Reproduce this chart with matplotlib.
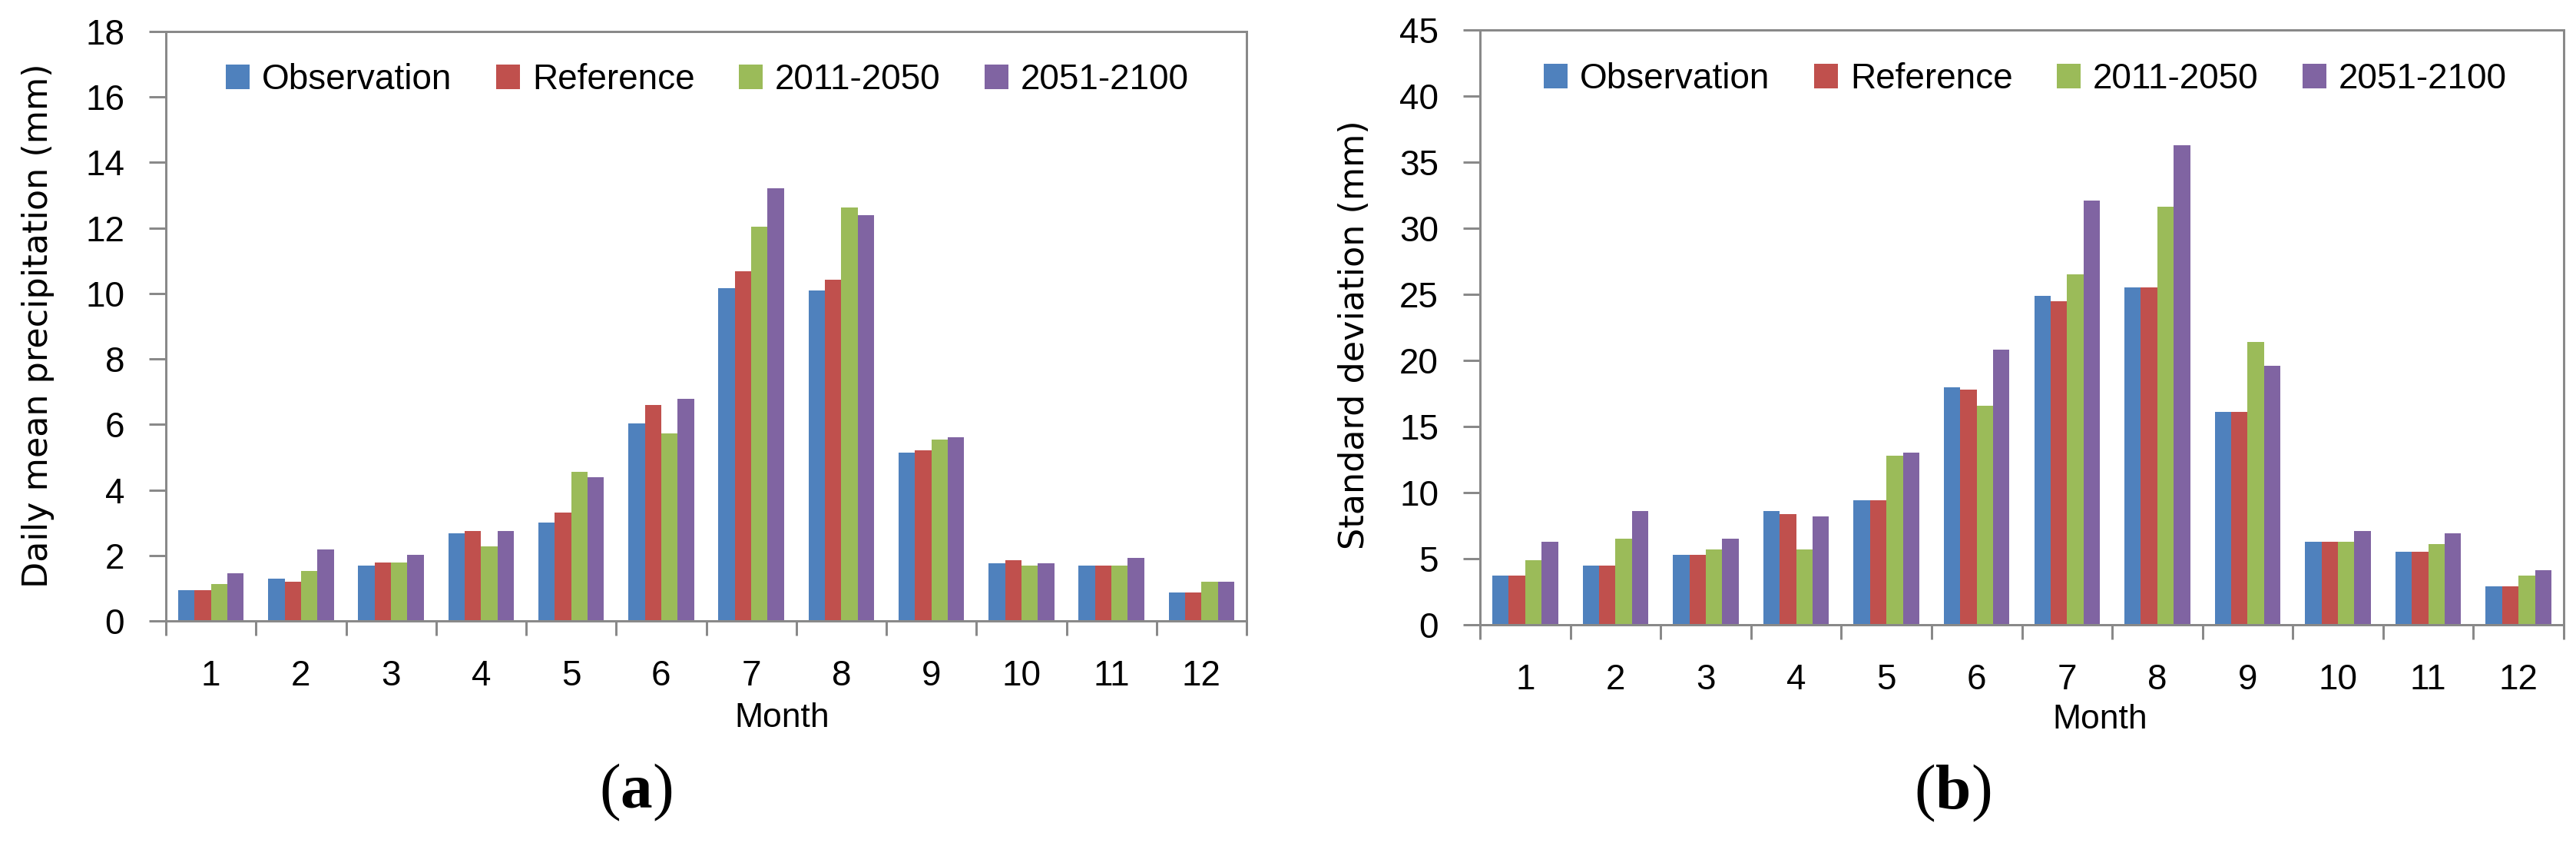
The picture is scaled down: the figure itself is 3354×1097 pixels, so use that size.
import matplotlib
matplotlib.use("Agg")
import matplotlib.pyplot as plt
import numpy as np
from matplotlib.patches import Patch
from matplotlib.ticker import FixedLocator, NullFormatter

# ---------------- data ----------------
months = [1, 2, 3, 4, 5, 6, 7, 8, 9, 10, 11, 12]
series_names = ["Observation", "Reference", "2011-2050", "2051-2100"]
colors = ["#4F81BD", "#C0504D", "#9BBB59", "#8064A2"]

# (a) daily mean precipitation (mm)
mean_obs = [0.95, 1.28, 1.70, 2.67, 3.00, 6.03, 10.17, 10.08, 5.13, 1.77, 1.70, 0.87]
mean_ref = [0.95, 1.20, 1.78, 2.75, 3.32, 6.60, 10.67, 10.41, 5.21, 1.85, 1.70, 0.87]
mean_f1 = [1.12, 1.53, 1.78, 2.27, 4.55, 5.72, 12.05, 12.63, 5.53, 1.70, 1.70, 1.20]
mean_f2 = [1.45, 2.18, 2.02, 2.75, 4.38, 6.78, 13.21, 12.38, 5.62, 1.77, 1.93, 1.20]

# (b) standard deviation (mm)
std_obs = [3.7, 4.5, 5.3, 8.6, 9.4, 17.98, 24.9, 25.5, 16.1, 6.3, 5.5, 2.9]
std_ref = [3.7, 4.5, 5.3, 8.4, 9.4, 17.77, 24.5, 25.5, 16.1, 6.3, 5.5, 2.9]
std_f1 = [4.9, 6.5, 5.7, 5.7, 12.8, 16.55, 26.5, 31.6, 21.4, 6.3, 6.1, 3.7]
std_f2 = [6.3, 8.6, 6.5, 8.2, 13.0, 20.84, 32.1, 36.3, 19.6, 7.1, 6.9, 4.1]

W, H = 3354, 1097
DPI = 100
fig = plt.figure(figsize=(W / DPI, H / DPI), dpi=DPI)

GRAY = "#898989"
TICKFONT = "Liberation Sans"
PX = 72.0 / DPI  # points per pixel


def fx(px):
    return px / W


def fy(py):
    return 1 - py / H


def make_panel(rect_px, data, ymax, ystep, ylabel, ylabel_pos, legend_pos,
               month_pos, tag, tag_pos):
    l, t, r, b = rect_px
    ax = fig.add_axes([fx(l), fy(b), (r - l) / W, (b - t) / H])
    n = len(data)
    gap = 1.5
    w = 1.0 / (n + gap)
    x = np.array(months, dtype=float)
    for i, (vals, c) in enumerate(zip(data, colors)):
        ax.bar(x + (i - (n - 1) / 2) * w, vals, width=w, color=c,
               linewidth=0, zorder=2)
    ax.set_xlim(0.5, 12.5)
    ax.set_ylim(0, ymax)
    ax.set_yticks(np.arange(0, ymax + 0.001, ystep))
    ax.set_yticklabels([f"{v:g}" for v in np.arange(0, ymax + 0.001, ystep)],
                       fontfamily=TICKFONT, fontsize=33)
    ax.set_xticks(months)
    ax.set_xticklabels([str(m) for m in months], fontfamily=TICKFONT,
                       fontsize=33)
    ax.xaxis.set_minor_locator(FixedLocator(np.arange(0.5, 12.51, 1.0)))
    ax.xaxis.set_minor_formatter(NullFormatter())
    ax.tick_params(axis="x", which="major", length=0, pad=36 * 1.0)
    ax.tick_params(axis="x", which="minor", direction="out", length=19 * PX,
                   width=3 * PX, color=GRAY)
    ax.tick_params(axis="y", which="major", direction="out", length=22 * PX,
                   width=3 * PX, color=GRAY, pad=32 * PX)
    for s in ax.spines.values():
        s.set_color(GRAY)
        s.set_linewidth(3 * PX)
    # ylabel
    fig.text(fx(ylabel_pos[0]), fy(ylabel_pos[1]), ylabel, rotation=90,
             ha="center", va="center", fontfamily="DejaVu Sans", fontsize=32)
    # x label
    fig.text(fx(month_pos[0]), fy(month_pos[1]), "Month", ha="center",
             va="center", fontfamily=TICKFONT, fontsize=32)
    # panel tag
    fig.text(fx(tag_pos[0]), fy(tag_pos[1]), "($\\mathbf{" + tag + "}$)",
             ha="center", va="center", fontfamily="Liberation Serif",
             fontsize=60)
    handles = [Patch(facecolor=c, edgecolor="none") for c in colors]
    ax.legend(handles, series_names, loc="center",
              bbox_to_anchor=(fx(legend_pos[0]), fy(legend_pos[1])),
              bbox_transform=fig.transFigure, ncol=4, frameon=False,
              prop={"family": TICKFONT, "size": 33},
              handlelength=0.68, handleheight=0.68, handletextpad=0.35,
              columnspacing=1.25, borderpad=0)
    return ax


plt.rcParams["mathtext.fontset"] = "custom"
plt.rcParams["mathtext.rm"] = "Liberation Serif"
plt.rcParams["mathtext.bf"] = "Liberation Serif:bold"

make_panel((216, 41, 1623, 808), [mean_obs, mean_ref, mean_f1, mean_f2],
           18, 2, "Daily mean precipitation (mm)", (50, 424), (921, 104),
           (1018, 935), "a", (828, 1031))
make_panel((1927, 39, 3338, 813), [std_obs, std_ref, std_f1, std_f2],
           45, 5, "Standard deviation (mm)", (1764, 436), (2637, 103),
           (2734, 936), "b", (2542, 1032))

fig.savefig("out.png", dpi=DPI, facecolor="white")
